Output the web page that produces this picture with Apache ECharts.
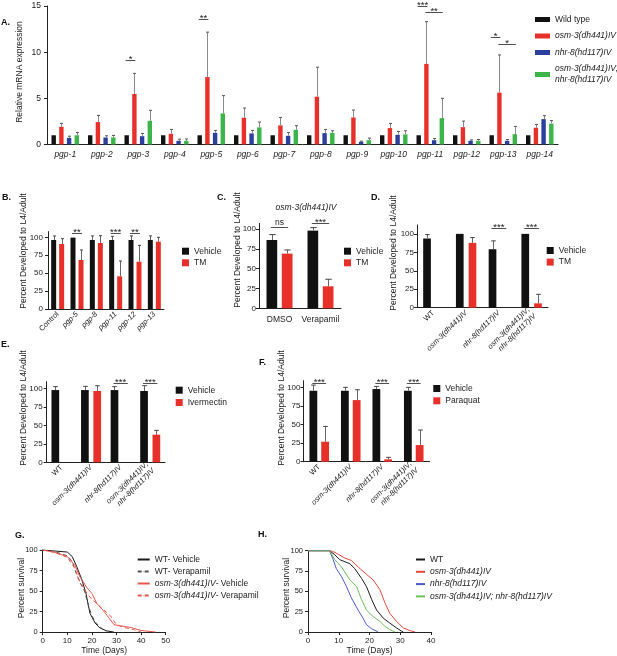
<!DOCTYPE html>
<html>
<head>
<meta charset="utf-8">
<script src="https://cdn.jsdelivr.net/npm/echarts/dist/echarts.min.js"></script>
<style>
html,body{margin:0;padding:0;background:#fff}
#main{width:617px;height:656px}
</style>
</head>
<body>
<div id="main"></div>
<script>
// ---------- data ----------
// A. relative mRNA expression (mean, error = upper - mean)
var pgpGenes = ['pgp-1','pgp-2','pgp-3','pgp-4','pgp-5','pgp-6','pgp-7','pgp-8','pgp-9','pgp-10','pgp-11','pgp-12','pgp-13','pgp-14'];
var aWT     = [1,1,1,1,1,1,1,1,1,1,1,1,1,1];
var aOsm    = [1.92,2.43,5.47,1.16,7.3,2.9,2.07,5.18,2.93,1.78,8.73,1.88,5.62,1.81];
var aOsmErr = [0.36,0.72,2.23,0.47,4.87,1.05,0.86,3.19,0.8,0.5,4.57,0.66,4.08,0.36];
var aNhr    = [0.72,0.76,0.9,0.4,1.27,1.2,0.94,1.23,0.29,1.05,0.47,0.4,0.4,2.75];
var aNhrErr = [0.18,0.18,0.3,0.18,0.25,0.32,0.36,0.4,0.07,0.36,0.18,0.1,0.14,0.37];
var aDbl    = [1.0,0.76,2.57,0.4,3.37,1.85,1.6,1.27,0.47,1.09,2.86,0.4,1.12,2.25];
var aDblErr = [0.3,0.22,1.13,0.2,1.92,0.58,0.43,0.22,0.22,0.4,2.14,0.14,0.84,0.35];
// significance: [category, from bar, to bar, y, text]
var aSig = [[2,0,1,9.2,'*'],[4,0,1,13.6,'**'],[10,0,1,15.05,'***'],[10,1,3,14.4,'**'],[12,0,1,11.6,'*'],[12,1,3,10.9,'*']];

// B. tunicamycin, pgp RNAi
var bCats   = ['Control','pgp-5','pgp-8','pgp-11','pgp-12','pgp-13'];
var bVeh    = [96.3,99.6,96.3,96.3,96.3,96.3];
var bVehErr = [5.6,0,5.7,5.1,5.7,5.7];
var bTM     = [90.7,68.4,92.1,45.6,66,94];
var bTMErr  = [7.4,13.9,10.2,21.4,22.8,6];
var bSig = [[1,0,1,105.6,'**'],[3,0,1,105.6,'***'],[4,0,1,105.6,'**']];

// C. verapamil
var cCats   = ['DMSO','Verapamil'];
var cVeh    = [86.1,97.9];
var cVehErr = [6.8,3.8];
var cTM     = [68.9,27.7];
var cTMErr  = [4.6,8.9];
var cSig = [[0,0,1,103,'ns'],[1,0,1,107,'***']];

// D-F. genotypes
var genoCats = ['WT','osm-3(dh441)IV','nhr-8(hd117)IV','osm-3(dh441)IV;\nnhr-8(hd117)IV'];
var dVeh    = [93.7,100,79.2,100];
var dVehErr = [5.3,0,11.3,0];
var dTM     = [0,87.8,0,5.9];
var dTMErr  = [0,7.2,0,12.2];
var dSig = [[2,0,1,108.5,'***'],[3,0,1,108.5,'***']];

var eVeh    = [97.7,97.7,97.7,96.4];
var eVehErr = [4.6,5,4.6,7.2];
var eIvm    = [0,96.4,0,37.4];
var eIvmErr = [0,7.2,0,5.8];
var eSig = [[2,0,1,107,'***'],[3,0,1,107,'***']];

var fVeh    = [95.9,95.9,98.2,95.9];
var fVehErr = [7.7,4.6,3.6,4.6];
var fPq     = [27,83.3,3.2,22.5];
var fPqErr  = [20.7,14,2.7,20.3];
var fSig = [[0,0,1,106.5,'***'],[2,0,1,106.5,'***'],[3,0,1,106.5,'***']];

// G. survival, verapamil  [day, percent]
var gWTVeh  = [[0,100],[4,99],[10,97.5],[12,92],[13.8,80],[15.9,64],[17.6,47],[19.2,23],[21.3,11],[23.3,5],[26,1.5],[29,0]];
var gWTVer  = [[0,100],[5,98],[10,93],[12,86],[13.8,70],[15.5,58],[17,50],[18.5,33],[20,20],[21.5,12],[23,7],[25,2],[26,0]];
var gOsmVeh = [[0,100],[5,97],[10,92],[13,82],[15,68],[18,54],[20,47],[22,35],[25,25],[27,17],[29,9],[33,7],[36,5.5],[40,2],[46,0]];
var gOsmVer = [[0,100],[5,97],[10,91],[13,78],[15,62],[16.5,55],[18,47],[20,40],[23.3,31],[26,24],[27.5,20],[29.5,11],[31.5,7],[34,5],[37,3],[40,0]];

// H. survival, genotypes
var hWT  = [[0,100],[7,100],[8.7,95],[10.3,89],[13.6,84],[15.2,78],[17.4,66],[19,56],[20.7,40],[22.3,27],[24.5,17],[26.6,11],[28.8,5],[30.4,1],[31,0]];
var hOsm = [[0,100],[7.5,100],[9.2,97],[12,91],[14.1,88],[16.3,80],[19,71],[21.2,64],[23.4,52],[25,36],[26.6,23],[28.8,13],[31,5],[33.2,1.6],[34.8,0]];
var hNhr = [[0,100],[7,100],[8.2,89],[9.2,78],[10.9,68],[12.5,56],[14.1,42],[16.3,27],[17.9,17],[19,9],[20.7,4],[22.8,0]];
var hDbl = [[0,100],[7,100],[8.7,89],[10.9,80],[13.6,64],[15.8,56],[17.4,40],[19,27],[21.2,19],[23.4,13],[25,7],[26.6,3],[28.3,0]];

// ---------- style ----------
var FONT = '"Liberation Sans", Arial, Helvetica, sans-serif';
var BLACK = '#111111', RED = '#e8302a', BLUE = '#2d3f9c', GREEN = '#3bb54a';
var pctTicks = [0,25,50,75,100];

// bar layout per panel (width px, gap as fraction of width, bars per group)
var LA = {w:4.4, gap:0.75, n:4};
var LB = {w:5, gap:0.6, n:2};
var LC = {w:10.7, gap:0.43, n:2};
var LD = {w:7.7, gap:0.65, n:2};
var LE = {w:7.7, gap:0.6, n:2};
var LF = {w:7.8, gap:0.51, n:2};

function barX(cx, L, i) {
  var total = L.n * L.w + (L.n - 1) * L.w * L.gap;
  return cx - total / 2 + i * L.w * (1 + L.gap) + L.w / 2;
}

function italFmt(v) {
  if (v === 'WT' || v === 'Control' || v === 'DMSO' || v === 'Verapamil') return '{n|' + v + '}';
  return v.split('\n').map(function (s) { return '{i|' + s + '}'; }).join('\n');
}

function legendFmt(name) {
  name = name.replace(/^H /, '');
  var m = name.match(/^(osm-3\(dh441\)IV)(- .*)$/);
  if (m) return '{i|' + m[1] + '}{n|' + m[2] + '}';
  if (/^(osm|nhr)/.test(name)) return name.split('\n').map(function (s) { return '{i|' + s + '}'; }).join('\n');
  return '{n|' + name + '}';
}

function richText(size, lh) {
  return {
    i: {fontStyle: 'italic', fontSize: size, fontFamily: FONT, color: '#222', lineHeight: lh},
    n: {fontSize: size, fontFamily: FONT, color: '#222', lineHeight: lh}
  };
}

function catAxis(gi, cats, rotate, size, margin) {
  return {
    type: 'category', gridIndex: gi, data: cats,
    axisLine: {lineStyle: {color: '#222', width: 1}},
    axisTick: {alignWithLabel: true, length: 3, lineStyle: {color: '#222'}},
    axisLabel: {interval: 0, rotate: rotate, margin: margin, formatter: italFmt, rich: richText(size, size + 1.5)}
  };
}

function valAxis(gi, max, ticks, size, interval, margin) {
  var ax = {
    type: 'value', gridIndex: gi, min: 0, max: max,
    axisLine: {show: true, lineStyle: {color: '#222', width: 1}},
    axisTick: {show: true, length: 3, lineStyle: {color: '#222'}},
    axisLabel: {fontSize: size, color: '#222', fontFamily: FONT, margin: margin || 5},
    splitLine: {show: false}
  };
  if (ticks) { ax.axisTick.customValues = ticks; ax.axisLabel.customValues = ticks; }
  if (interval) ax.interval = interval;
  return ax;
}

function bars(gi, name, vals, color, L) {
  return {
    type: 'bar', name: name, xAxisIndex: gi, yAxisIndex: gi, data: vals,
    barWidth: L.w, barGap: (L.gap * 100) + '%', itemStyle: {color: color}, silent: true
  };
}

function errBars(gi, L, list, stem, capColor) {
  var data = [];
  list.forEach(function (s, si) {
    s[0].forEach(function (v, i) { if (s[1][i] > 0) data.push([i, si, v, v + s[1][i]]); });
  });
  return {
    type: 'custom', xAxisIndex: gi, yAxisIndex: gi, data: data, silent: true, z: 3,
    encode: {x: 0, y: 2},
    renderItem: function (params, api) {
      var p0 = api.coord([api.value(0), api.value(2)]);
      var p1 = api.coord([api.value(0), api.value(3)]);
      var x = Math.round(barX(p0[0], L, api.value(1))) + 0.5;
      var c = Math.max(1.5, L.w * 0.3);
      return {type: 'group', children: [
        {type: 'line', shape: {x1: x, y1: p0[1], x2: x, y2: p1[1]}, style: {stroke: stem, lineWidth: 1}},
        {type: 'line', shape: {x1: x - c, y1: p1[1], x2: x + c, y2: p1[1]}, style: {stroke: capColor, lineWidth: 1}}
      ]};
    }
  };
}

function sigMarks(gi, L, list) {
  return {
    type: 'custom', xAxisIndex: gi, yAxisIndex: gi, data: list.map(function (d) { return d.slice(0, 4); }),
    silent: true, z: 4, encode: {x: 0, y: 3},
    renderItem: function (params, api) {
      var p = api.coord([api.value(0), api.value(3)]);
      var xa = barX(p[0], L, api.value(1)), xb = barX(p[0], L, api.value(2));
      var txt = list[params.dataIndex][4];
      var y = Math.round(p[1]) + 0.5;
      return {type: 'group', children: [
        {type: 'line', shape: {x1: xa - 1, y1: y, x2: xb + 1, y2: y}, style: {stroke: '#222', lineWidth: 0.8}},
        {type: 'text', x: (xa + xb) / 2, y: txt === 'ns' ? y - 0.5 : y + 3.5,
         style: {text: txt, fontSize: txt === 'ns' ? 8.5 : 9.5, fontFamily: FONT, fill: '#222',
                 align: 'center', verticalAlign: 'bottom'}}
      ]};
    }
  };
}

function line(gi, name, data, color, dashed) {
  return {
    type: 'line', name: name, xAxisIndex: gi, yAxisIndex: gi, data: data,
    symbol: 'none', silent: true,
    lineStyle: {color: color, width: 1, type: dashed ? [4, 3] : 'solid'},
    itemStyle: {color: color}
  };
}

function barLegend(names, left, top, gap) {
  return {
    data: names, left: left, top: top, orient: 'vertical', icon: 'rect',
    itemWidth: 7, itemHeight: 7, itemGap: gap, itemTextGap: 5, selectedMode: false,
    formatter: legendFmt, textStyle: {rich: richText(8.5, 10)}
  };
}

function lineLegend(names, left, top, w, gap, textGap) {
  // thin icon so the legend shows only a short line sample
  return {
    data: names, left: left, top: top, orient: 'vertical', itemWidth: w, itemHeight: 1, itemGap: gap,
    itemTextGap: textGap, selectedMode: false, formatter: legendFmt,
    textStyle: {rich: richText(8.5, 10)}
  };
}

function yTitle(text, x, y) {
  return {type: 'text', x: x, y: y, rotation: Math.PI / 2, silent: true,
    style: {text: text, fontSize: 8.5, fontFamily: FONT, fill: '#222', align: 'center', verticalAlign: 'middle'}};
}
function panelTag(text, x, y) {
  return {type: 'text', x: x, y: y, silent: true,
    style: {text: text, fontSize: 9, fontWeight: 'bold', fontFamily: FONT, fill: '#111', align: 'left', verticalAlign: 'middle'}};
}

var option = {
  animation: false,
  backgroundColor: '#ffffff',
  textStyle: {fontFamily: FONT},
  grid: [
    {left: 47, top: 6, width: 511, height: 138.5},
    {left: 48, top: 231.6, width: 116, height: 77.4},
    {left: 259, top: 223.4, width: 82, height: 84.9},
    {left: 417, top: 225, width: 131, height: 82.7},
    {left: 46.7, top: 381.7, width: 118.3, height: 80.6},
    {left: 303.5, top: 380.7, width: 126, height: 81},
    {left: 42.7, top: 550, width: 123, height: 82.3},
    {left: 308, top: 550.7, width: 123, height: 81.6}
  ],
  xAxis: [
    catAxis(0, pgpGenes, 0, 8.5, 5),
    catAxis(1, bCats, 45, 7.5, 4),
    catAxis(2, cCats, 0, 8.5, 6),
    catAxis(3, genoCats, 45, 7.5, 4),
    catAxis(4, genoCats, 45, 7.5, 4),
    catAxis(5, genoCats, 45, 7.5, 4),
    Object.assign(valAxis(6, 50, null, 8, 10), {name: 'Time (Days)', nameLocation: 'middle', nameGap: 10,
      nameTextStyle: {fontSize: 8.5, color: '#222', fontFamily: FONT, verticalAlign: 'top'}}),
    Object.assign(valAxis(7, 40, null, 8, 10), {name: 'Time (Days)', nameLocation: 'middle', nameGap: 14,
      nameTextStyle: {fontSize: 8.5, color: '#222', fontFamily: FONT, verticalAlign: 'top'}})
  ],
  yAxis: [
    valAxis(0, 15, null, 8.5, 5, 6),
    valAxis(1, 108, pctTicks, 8, null, 5),
    valAxis(2, 107, pctTicks, 8, null, 3),
    valAxis(3, 112, pctTicks, 8, null, 3),
    valAxis(4, 109, pctTicks, 8, null, 4),
    valAxis(5, 109.5, pctTicks, 8, null, 3),
    valAxis(6, 100, null, 7.5, 25),
    valAxis(7, 100, null, 7.5, 25)
  ],
  legend: [
    {data: ['Wild type','osm-3(dh441)IV','nhr-8(hd117)IV','osm-3(dh441)IV;\nnhr-8(hd117)IV'],
     left: 530, top: 10, orient: 'vertical', icon: 'rect', itemWidth: 15, itemHeight: 5, itemGap: 7.5,
     itemTextGap: 8, selectedMode: false, formatter: legendFmt, textStyle: {rich: richText(8.5, 11)}},
    barLegend(['Vehicle','TM'], 177, 241.7, 2.6),
    barLegend(['Vehicle','TM'], 339, 241.7, 2.6),
    barLegend(['Vehicle','TM'], 541.7, 241, 2.6),
    barLegend(['Vehicle','Ivermectin'], 170.7, 380.7, 3.3),
    barLegend(['Vehicle','Paraquat'], 428.3, 379, 3.3),
    lineLegend(['WT- Vehicle','WT- Verapamil','osm-3(dh441)IV- Vehicle','osm-3(dh441)IV- Verapamil'], 131.7, 550, 12, 3, 5),
    lineLegend(['H WT','H osm-3(dh441)IV','H nhr-8(hd117)IV','H osm-3(dh441)IV; nhr-8(hd117)IV'], 410, 550, 9, 3.3, 4)
  ],
  graphic: [
    panelTag('A.', 1, 23), panelTag('B.', 2, 198), panelTag('C.', 217, 198), panelTag('D.', 371, 198),
    panelTag('E.', 1, 345), panelTag('F.', 259, 363), panelTag('G.', 15, 536), panelTag('H.', 258, 535),
    yTitle('Relative mRNA expression', 19.5, 72),
    yTitle('Percent Developed to L4/Adult', 24, 251),
    yTitle('Percent Developed to L4/Adult', 238, 250),
    yTitle('Percent Developed to L4/Adult', 394, 253),
    yTitle('Percent Developed to L4/Adult', 23.5, 408),
    yTitle('Percent Developed to L4/Adult', 282, 408),
    yTitle('Percent survival', 21.7, 588),
    yTitle('Percent survival', 286.7, 588),
    {type: 'text', x: 306, y: 208, silent: true,
     style: {text: 'osm-3(dh441)IV', fontSize: 8.5, fontStyle: 'italic', fontFamily: FONT, fill: '#222',
             align: 'center', verticalAlign: 'middle'}}
  ],
  series: [
    // A
    bars(0, 'Wild type', aWT, BLACK, LA),
    bars(0, 'osm-3(dh441)IV', aOsm, RED, LA),
    bars(0, 'nhr-8(hd117)IV', aNhr, BLUE, LA),
    bars(0, 'osm-3(dh441)IV;\nnhr-8(hd117)IV', aDbl, GREEN, LA),
    errBars(0, LA, [[aWT, aWT.map(function () { return 0; })], [aOsm, aOsmErr], [aNhr, aNhrErr], [aDbl, aDblErr]], '#8a8a8a', '#555'),
    sigMarks(0, LA, aSig),
    // B
    bars(1, 'Vehicle', bVeh, BLACK, LB),
    bars(1, 'TM', bTM, RED, LB),
    errBars(1, LB, [[bVeh, bVehErr], [bTM, bTMErr]], '#666', '#444'),
    sigMarks(1, LB, bSig),
    // C
    bars(2, 'Vehicle', cVeh, BLACK, LC),
    bars(2, 'TM', cTM, RED, LC),
    errBars(2, LC, [[cVeh, cVehErr], [cTM, cTMErr]], '#666', '#444'),
    sigMarks(2, LC, cSig),
    // D
    bars(3, 'Vehicle', dVeh, BLACK, LD),
    bars(3, 'TM', dTM, RED, LD),
    errBars(3, LD, [[dVeh, dVehErr], [dTM, dTMErr]], '#666', '#444'),
    sigMarks(3, LD, dSig),
    // E
    bars(4, 'Vehicle', eVeh, BLACK, LE),
    bars(4, 'Ivermectin', eIvm, RED, LE),
    errBars(4, LE, [[eVeh, eVehErr], [eIvm, eIvmErr]], '#666', '#444'),
    sigMarks(4, LE, eSig),
    // F
    bars(5, 'Vehicle', fVeh, BLACK, LF),
    bars(5, 'Paraquat', fPq, RED, LF),
    errBars(5, LF, [[fVeh, fVehErr], [fPq, fPqErr]], '#666', '#444'),
    sigMarks(5, LF, fSig),
    // G
    line(6, 'WT- Vehicle', gWTVeh, '#1a1a1a', false),
    line(6, 'WT- Verapamil', gWTVer, '#555555', true),
    line(6, 'osm-3(dh441)IV- Vehicle', gOsmVeh, '#e5574c', false),
    line(6, 'osm-3(dh441)IV- Verapamil', gOsmVer, '#e5574c', true),
    // H
    line(7, 'H WT', hWT, '#1a1a1a', false),
    line(7, 'H osm-3(dh441)IV', hOsm, '#e8473c', false),
    line(7, 'H nhr-8(hd117)IV', hNhr, '#4a5cc4', false),
    line(7, 'H osm-3(dh441)IV; nhr-8(hd117)IV', hDbl, '#6cc05a', false)
  ]
};

var chart = echarts.init(document.getElementById('main'));
chart.setOption(option);
</script>
</body>
</html>
